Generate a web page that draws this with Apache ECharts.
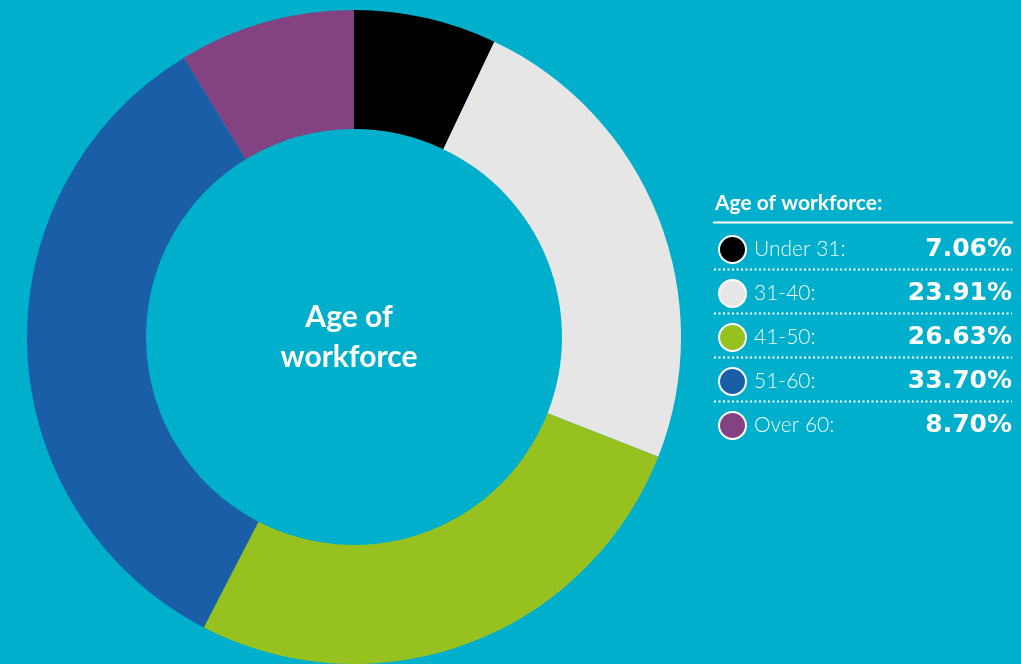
<!DOCTYPE html>
<html>
<head>
<meta charset="utf-8">
<script src="https://cdn.jsdelivr.net/npm/echarts@6/dist/echarts.min.js"></script>
<style>
html,body{margin:0;padding:0;background:#00AFCB;}
#chart{width:1021px;height:664px;}
</style>
</head>
<body>
<div id="chart"></div>
<script>
const categories = ['Under 31', '31-40', '41-50', '51-60', 'Over 60'];
const values = [7.06, 23.91, 26.63, 33.70, 8.70];
const colors = ['#000000', '#E6E6E6', '#97C11F', '#1B5EA8', '#834383'];
const legendTitle = 'Age of workforce:';
const centerText = 'Age of\nworkforce';

const chart = echarts.init(document.getElementById('chart'));

const seps = [];
for (let i = 0; i < categories.length - 1; i++) {
  const y = 269.5 + i * 44;
  seps.push({
    type: 'line',
    shape: { x1: 714, y1: y, x2: 1012, y2: y },
    style: { stroke: '#ffffff', lineWidth: 2, lineDash: [2, 2.5] },
    silent: true
  });
}

chart.setOption({
  backgroundColor: '#00AFCB',
  animation: false,
  title: {
    text: legendTitle,
    left: 710,
    top: 188,
    textStyle: { color: '#ffffff', fontFamily: 'Lato', fontWeight: 'bold', fontSize: 21 }
  },
  legend: {
    orient: 'vertical',
    left: 713,
    top: 230,
    itemWidth: 27,
    itemHeight: 27,
    itemGap: 15,
    icon: 'circle',
    selectedMode: false,
    itemStyle: { borderColor: '#ffffff', borderWidth: 2 },
    data: categories,
    formatter: function (name) {
      const i = categories.indexOf(name);
      return '{l|' + name + ':}{v|' + values[i].toFixed(2) + '%}';
    },
    textStyle: {
      rich: {
        l: { width: 150, padding: [0, 0, 0, 3], fontFamily: 'Lato', fontWeight: 300, fontSize: 21, color: '#f2fbfd', lineHeight: 27 },
        v: { width: 108, align: 'right', fontFamily: 'DejaVu Sans', fontWeight: 'bold', fontSize: 25, color: '#ffffff', lineHeight: 27 }
      }
    }
  },
  graphic: [
    {
      type: 'line',
      shape: { x1: 713, y1: 222.5, x2: 1013, y2: 222.5 },
      style: { stroke: '#ffffff', lineWidth: 2 },
      silent: true
    },
    {
      type: 'text',
      x: 349,
      y: 337,
      style: {
        text: centerText,
        align: 'center', verticalAlign: 'middle',
        fill: '#ffffff',
        font: 'bold 30px Lato',
        lineHeight: 40
      }
    }
  ].concat(seps),
  series: [{
    type: 'pie',
    center: [354, 337],
    radius: [208, 327],
    startAngle: 90,
    clockwise: true,
    label: { show: false },
    labelLine: { show: false },
    emphasis: { disabled: true },
    itemStyle: { borderWidth: 0 },
    data: categories.map((c, i) => ({ name: c, value: values[i], itemStyle: { color: colors[i] } }))
  }]
});
</script>
</body>
</html>
